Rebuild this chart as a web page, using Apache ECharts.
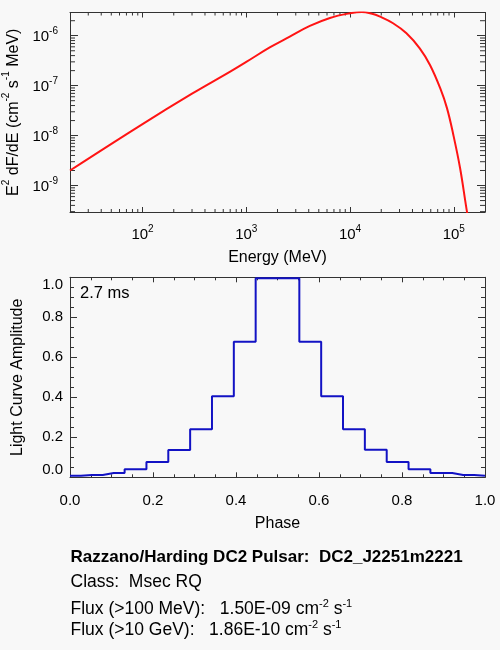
<!DOCTYPE html>
<html>
<head>
<meta charset="utf-8">
<script src="https://cdn.jsdelivr.net/npm/echarts@6/dist/echarts.min.js"></script>
<style>
html, body { margin: 0; padding: 0; background: #f8f8f8; }
#main { width: 500px; height: 650px; }
</style>
</head>
<body>
<div id="main"></div>
<script>
// spectrum (MeV, cm^-2 s^-1 MeV)
var energy = [20, 100, 300, 700, 1000, 1700, 2600, 4100, 6400, 10000, 13000, 16000,
  19500, 26000, 35000, 47000, 59000, 74000, 86000, 99000, 115000, 133000, 144000];
var e2dfde = [2.0e-9, 1.7e-8, 6.9e-8, 1.91e-7, 2.99e-7, 5.9e-7, 9.5e-7, 1.57e-6, 2.27e-6, 2.82e-6, 3.0e-6, 2.79e-6,
  2.41e-6, 1.78e-6, 1.12e-6, 5.6e-7, 2.6e-7, 8.9e-8, 3.55e-8, 1.04e-8, 2.24e-9, 3.3e-10, 1.3e-10];

// light curve, 20 phase points drawn as a histogram
var phase = [0, 0.0526, 0.1053, 0.1579, 0.2105, 0.2632, 0.3158, 0.3684, 0.4211, 0.4737,
  0.5263, 0.5789, 0.6316, 0.6842, 0.7368, 0.7895, 0.8421, 0.8947, 0.9474, 1.0];
var amplitude = [0.008, 0.012, 0.022, 0.040, 0.077, 0.136, 0.240, 0.405, 0.678, 0.995,
  0.995, 0.678, 0.405, 0.240, 0.138, 0.077, 0.040, 0.022, 0.012, 0.008];

var phaseTicks = [0, 0.2, 0.4, 0.6, 0.8, 1.0];
var ampTicks = [0, 0.2, 0.4, 0.6, 0.8, 1.0];

var eMin = 20, eMax = 2e5;
var fMin = 2.95e-10, fMax = 2.92e-6;

// log minor ticks (2..9 per decade)
var minorMult = [2, 3, 4, 5, 6, 7, 8, 9];
function minorTicks(lo, hi, k0, k1) {
  var out = [];
  for (var k = k0; k <= k1; k++) {
    minorMult.forEach(function (m) {
      var v = m * Math.pow(10, k);
      if (v > lo * 1.0001 && v < hi * 0.9999) out.push(v);
    });
  }
  return out;
}
var eMinor = minorTicks(eMin, eMax, 1, 5);
var fMinor = minorTicks(fMin, fMax, -10, -6);

var axisColor = '#333';
var font = 'Liberation Sans, Arial, Helvetica, sans-serif';
var supRich = {
  b: { fontSize: 15, fontFamily: font, color: '#000', lineHeight: 18, verticalAlign: 'bottom' },
  s: { fontSize: 10, fontFamily: font, color: '#000', lineHeight: 10, verticalAlign: 'top' }
};
var nameRich = {
  n: { fontSize: 16, fontFamily: font, color: '#000', lineHeight: 20, verticalAlign: 'bottom' },
  s: { fontSize: 10, fontFamily: font, color: '#000', lineHeight: 10, verticalAlign: 'top' }
};
var textRich = {
  t: { fontSize: 17.5, fontFamily: font, fill: '#000', lineHeight: 20, verticalAlign: 'bottom' },
  s: { fontSize: 11, fontFamily: font, fill: '#000', lineHeight: 11, verticalAlign: 'top' }
};

function logLabel(v) {
  var l = Math.log10(v), e = Math.round(l);
  if (Math.abs(l - e) > 1e-6) return '';
  return '{b|10}{s|' + e + '}';
}

function axisBase(extra) {
  var a = {
    axisLine: { show: true, onZero: false, lineStyle: { color: axisColor, width: 1 } },
    splitLine: { show: false },
    axisTick: { show: true, inside: true, length: 5, lineStyle: { color: axisColor } }
  };
  for (var k in extra) a[k] = extra[k];
  return a;
}

function minorSeries(values, isX, len) {
  return {
    type: 'custom',
    xAxisIndex: 0,
    yAxisIndex: 0,
    silent: true,
    clip: false,
    data: values.map(function (v) { return isX ? [v, fMin] : [eMin, v]; }),
    renderItem: function (params, api) {
      var cs = params.coordSys;
      var p = api.coord([api.value(0), api.value(1)]);
      var st = { stroke: axisColor, lineWidth: 1 };
      if (isX) {
        var yb = cs.y + cs.height;
        return { type: 'group', children: [
          { type: 'line', shape: { x1: p[0], y1: yb, x2: p[0], y2: yb - len }, style: st },
          { type: 'line', shape: { x1: p[0], y1: cs.y, x2: p[0], y2: cs.y + len }, style: st }
        ] };
      }
      var xr = cs.x + cs.width;
      return { type: 'group', children: [
        { type: 'line', shape: { x1: cs.x, y1: p[1], x2: cs.x + len, y2: p[1] }, style: st },
        { type: 'line', shape: { x1: xr, y1: p[1], x2: xr - len, y2: p[1] }, style: st }
      ] };
    }
  };
}

var chart = echarts.init(document.getElementById('main'), null, { renderer: 'canvas' });

var option = {
  backgroundColor: '#f8f8f8',
  animation: false,
  grid: [
    { left: 70, top: 12.5, width: 415, height: 199.5, outerBoundsMode: 'none', containLabel: false },
    { left: 70, top: 277.3, width: 415, height: 200, outerBoundsMode: 'none', containLabel: false }
  ],
  xAxis: [
    axisBase({
      gridIndex: 0, type: 'log', position: 'bottom', min: eMin, max: eMax,
      name: 'Energy (MeV)', nameLocation: 'middle', nameGap: 38,
      nameTextStyle: { fontSize: 16, fontFamily: font, color: '#000' },
      axisLabel: { formatter: logLabel, rich: supRich, margin: 12, showMinLabel: false, showMaxLabel: false }
    }),
    axisBase({
      gridIndex: 0, type: 'log', position: 'top', min: eMin, max: eMax,
      axisLabel: { show: false }
    }),
    axisBase({
      gridIndex: 1, type: 'value', position: 'bottom', min: 0, max: 1, interval: 0.2,
      name: 'Phase', nameLocation: 'middle', nameGap: 38,
      nameTextStyle: { fontSize: 16, fontFamily: font, color: '#000' },
      axisLabel: {
        fontSize: 15, fontFamily: font, color: '#000', margin: 16,
        formatter: function (v) { return phaseTicks.indexOf(+v.toFixed(1)) >= 0 ? v.toFixed(1) : ''; }
      },
      minorTick: { show: true, splitNumber: 4, length: 3, lineStyle: { color: axisColor } }
    }),
    axisBase({
      gridIndex: 1, type: 'value', position: 'top', min: 0, max: 1, interval: 0.2,
      axisLabel: { show: false },
      minorTick: { show: true, splitNumber: 4, length: 3, lineStyle: { color: axisColor } }
    })
  ],
  yAxis: [
    axisBase({
      gridIndex: 0, type: 'log', position: 'left', min: fMin, max: fMax,
      name: '{n|E}{s|2}{n| dF/dE (cm}{s|-2}{n| s}{s|-1}{n| MeV)}',
      nameLocation: 'middle', nameGap: 41, nameRotate: 90,
      nameTextStyle: { rich: nameRich },
      axisTick: { show: true, inside: true, length: 8, lineStyle: { color: axisColor } },
      axisLabel: { formatter: logLabel, rich: supRich, margin: 12, showMinLabel: false, showMaxLabel: false }
    }),
    axisBase({
      gridIndex: 0, type: 'log', position: 'right', min: fMin, max: fMax,
      axisTick: { show: true, inside: true, length: 8, lineStyle: { color: axisColor } },
      axisLabel: { show: false }
    }),
    axisBase({
      gridIndex: 1, type: 'value', position: 'left', min: 0, max: 1, interval: 0.2,
      name: 'Light Curve Amplitude', nameLocation: 'middle', nameGap: 44, nameRotate: 90,
      nameTextStyle: { fontSize: 16, fontFamily: font, color: '#000' },
      axisTick: { show: true, inside: true, length: 7, lineStyle: { color: axisColor } },
      axisLabel: {
        fontSize: 15, fontFamily: font, color: '#000', margin: 7,
        verticalAlignMaxLabel: 'top', verticalAlignMinLabel: 'bottom',
        formatter: function (v) { return ampTicks.indexOf(+v.toFixed(1)) >= 0 ? v.toFixed(1) : ''; }
      },
      minorTick: { show: true, splitNumber: 4, length: 4, lineStyle: { color: axisColor } }
    }),
    axisBase({
      gridIndex: 1, type: 'value', position: 'right', min: 0, max: 1, interval: 0.2,
      axisTick: { show: true, inside: true, length: 7, lineStyle: { color: axisColor } },
      axisLabel: { show: false },
      minorTick: { show: true, splitNumber: 4, length: 4, lineStyle: { color: axisColor } }
    })
  ],
  series: [
    {
      type: 'line', xAxisIndex: 0, yAxisIndex: 0,
      data: energy.map(function (e, i) { return [e, e2dfde[i]]; }),
      showSymbol: false, smooth: 0.4,
      lineStyle: { color: '#ff1414', width: 2 }
    },
    minorSeries(eMinor, true, 3),
    minorSeries(fMinor, false, 5),
    {
      type: 'line', xAxisIndex: 2, yAxisIndex: 2,
      data: phase.map(function (p, i) { return [p, amplitude[i]]; }),
      step: 'middle', showSymbol: false,
      lineStyle: { color: '#1212c4', width: 2 }
    }
  ],
  graphic: [
    { type: 'text', x: 80, y: 293, style: { text: '2.7 ms', font: '16.5px ' + font, fill: '#000', verticalAlign: 'middle' } },
    { type: 'text', x: 70.5, y: 557, style: { text: 'Razzano/Harding DC2 Pulsar:  DC2_J2251m2221', font: 'bold 17px ' + font, fill: '#000', verticalAlign: 'middle' } },
    { type: 'text', x: 70.5, y: 582, style: { text: 'Class:  Msec RQ', font: '17.5px ' + font, fill: '#000', verticalAlign: 'middle' } },
    { type: 'text', x: 70.5, y: 608, style: {
      text: '{t|Flux (>100 MeV):   1.50E-09 cm}{s|-2}{t| s}{s|-1}', verticalAlign: 'middle', rich: textRich } },
    { type: 'text', x: 70.5, y: 629, style: {
      text: '{t|Flux (>10 GeV):   1.86E-10 cm}{s|-2}{t| s}{s|-1}', verticalAlign: 'middle', rich: textRich } }
  ]
};

chart.setOption(option);
</script>
</body>
</html>
